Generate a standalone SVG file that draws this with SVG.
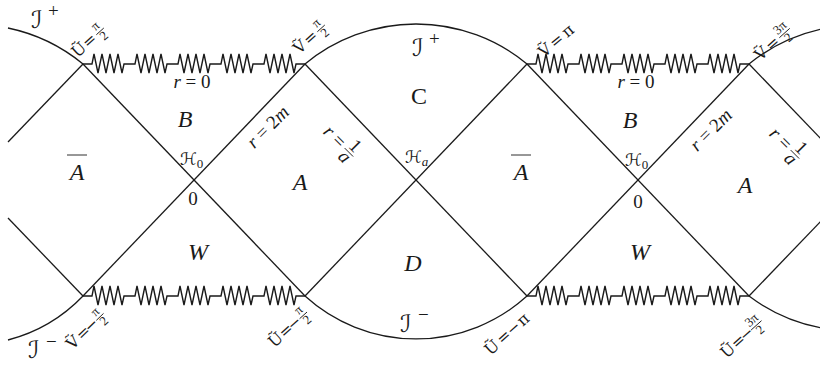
<svg xmlns="http://www.w3.org/2000/svg" xmlns:xlink="http://www.w3.org/1999/xlink" width="820" height="366" viewBox="0 0 820 366">
<style>
.ln{fill:none;stroke:#1a1a1a;stroke-width:1.3}
.sp{fill:none;stroke:#1a1a1a;stroke-width:1.4;stroke-linejoin:miter}
.big{font-family:"Liberation Serif",serif;font-style:italic;font-size:24px;fill:#1a1a1a}
.rom{font-family:"Liberation Serif",serif;font-size:24px;fill:#1a1a1a}
.md{font-family:"Liberation Serif",serif;font-style:italic;font-size:19px;fill:#1a1a1a}
.mdr{font-family:"Liberation Serif",serif;font-size:19px;fill:#1a1a1a}
.scr{font-family:"DejaVu Serif","DejaVu Sans",serif;font-size:17px;fill:#1a1a1a}
.si{font-family:"DejaVu Serif","DejaVu Sans",serif;font-size:24px;fill:#1a1a1a}
.sub{font-family:"Liberation Serif",serif;font-size:13px;fill:#1a1a1a}
.lab{font-family:"DejaVu Serif","Liberation Serif",serif;font-size:16px;fill:#1a1a1a}
.fr{font-family:"Liberation Serif",serif;font-size:13px;fill:#1a1a1a}
.frl{stroke:#1a1a1a;stroke-width:0.9}
</style>
<defs>
<path id="spring" d="M0,0 h9 l2,-10 l4,19 l4,-19 l4,19 l4,-19 l4,19 l4,-19 l4,19 l2,-9 h11 l2,-10 l4,19 l4,-19 l4,19 l4,-19 l4,19 l4,-19 l4,19 l2,-9 h11 l2,-10 l4,19 l4,-19 l4,19 l4,-19 l4,19 l4,-19 l4,19 l2,-9 h11 l2,-10 l4,19 l4,-19 l4,19 l4,-19 l4,19 l4,-19 l4,19 l2,-9 h11 l2,-10 l4,19 l4,-19 l4,19 l4,-19 l4,19 l4,-19 l4,19 l2,-9 h9"/>
</defs>
<g id="connectors">
<line class="ln" x1="8" y1="142" x2="83" y2="64"/>
<line class="ln" x1="8" y1="218" x2="83" y2="296"/>
<line class="ln" x1="83" y1="64" x2="305" y2="296"/>
<line class="ln" x1="83" y1="296" x2="305" y2="64"/>
<line class="ln" x1="305" y1="64" x2="527" y2="296"/>
<line class="ln" x1="305" y1="296" x2="527" y2="64"/>
<line class="ln" x1="527" y1="64" x2="749" y2="296"/>
<line class="ln" x1="527" y1="296" x2="749" y2="64"/>
<line class="ln" x1="749" y1="64" x2="822" y2="140"/>
<line class="ln" x1="749" y1="296" x2="822" y2="220"/>
<path class="ln" d="M8,28 A174,174 0 0 1 83,64"/>
<path class="ln" d="M305,64 A174,174 0 0 1 527,64"/>
<path class="ln" d="M749,64 A174,174 0 0 1 822,29"/>
<path class="ln" d="M8,340 A160,160 0 0 0 83,296"/>
<path class="ln" d="M305,296 A165,165 0 0 0 527,296"/>
<path class="ln" d="M749,296 A172,172 0 0 0 822,328"/>
<use xlink:href="#spring" class="sp" transform="translate(83,64)"/>
<use xlink:href="#spring" class="sp" transform="translate(527,64)"/>
<use xlink:href="#spring" class="sp" transform="translate(83,296)"/>
<use xlink:href="#spring" class="sp" transform="translate(527,296)"/>
</g>
<g id="scri-plus-left"><text class="si" x="31" y="28">ℐ</text><text class="mdr" x="48" y="17" font-size="15">+</text></g>
<g id="scri-plus-mid"><text class="si" x="412" y="56">ℐ</text><text class="mdr" x="429" y="45" font-size="15">+</text></g>
<g id="scri-minus-mid"><text class="si" x="400" y="332">ℐ</text><text class="mdr" x="418" y="321" font-size="15">−</text></g>
<g id="scri-minus-left"><text class="si" x="28" y="358">ℐ</text><text class="mdr" x="46" y="348" font-size="15">−</text></g>
<g id="region-C"><text class="rom" x="419" y="104" text-anchor="middle">C</text></g>
<g id="region-D"><text class="big" x="413" y="271" text-anchor="middle">D</text></g>
<g id="region-W-left"><text class="big" x="198" y="260" text-anchor="middle">W</text></g>
<g id="region-W-right"><text class="big" x="640" y="260" text-anchor="middle">W</text></g>
<g id="region-B-left"><text class="big" x="185" y="127" text-anchor="middle">B</text></g>
<g id="region-B-right"><text class="big" x="630" y="128" text-anchor="middle">B</text></g>
<g id="region-A-left"><text class="big" x="300" y="190" text-anchor="middle">A</text></g>
<g id="region-A-right"><text class="big" x="745" y="193" text-anchor="middle">A</text></g>
<g id="region-Abar-left"><text class="big" x="77" y="180" text-anchor="middle">A</text><line class="frl" x1="67" y1="155" x2="87" y2="155"/></g>
<g id="region-Abar-right"><text class="big" x="521" y="180" text-anchor="middle">A</text><line class="frl" x1="511" y1="155" x2="531" y2="155"/></g>
<g id="H0-left"><text class="scr" x="180" y="165">ℋ<tspan class="sub" dy="3">0</tspan></text></g>
<g id="H0-right"><text class="scr" x="625" y="166">ℋ<tspan class="sub" dy="3">0</tspan></text></g>
<g id="Ha"><text class="scr" x="405" y="163">ℋ<tspan class="sub" font-style="italic" dy="3">a</tspan></text></g>
<g id="zero-left"><text class="mdr" x="193" y="205" text-anchor="middle" font-size="16">0</text></g>
<g id="zero-right"><text class="mdr" x="638" y="208" text-anchor="middle" font-size="16">0</text></g>
<g id="r0-left"><text class="md" x="192" y="88" text-anchor="middle" font-size="20">r <tspan font-style="normal">= 0</tspan></text></g>
<g id="r0-right"><text class="md" x="636" y="88" text-anchor="middle" font-size="20">r <tspan font-style="normal">= 0</tspan></text></g>
<g id="r2m-left" transform="translate(268,127) rotate(-45)"><text class="md" x="0" y="6" text-anchor="middle">r <tspan font-style="normal">= 2</tspan>m</text></g>
<g id="r2m-right" transform="translate(711,130) rotate(-45)"><text class="md" x="0" y="6" text-anchor="middle">r <tspan font-style="normal">= 2</tspan>m</text></g>
<g id="r1a-mid" transform="translate(339,141) rotate(45)"><text class="md" x="-14" y="6" text-anchor="middle">r</text><text class="mdr" x="0" y="6" text-anchor="middle">=</text><text class="mdr" x="15" y="-2" text-anchor="middle" font-size="16">1</text><line class="frl" x1="9" y1="1" x2="21" y2="1"/><text class="md" x="15" y="13" text-anchor="middle" font-size="16">a</text></g>
<g id="r1a-right" transform="translate(785,143) rotate(45)"><text class="md" x="-14" y="6" text-anchor="middle">r</text><text class="mdr" x="0" y="6" text-anchor="middle">=</text><text class="mdr" x="15" y="-2" text-anchor="middle" font-size="16">1</text><line class="frl" x1="9" y1="1" x2="21" y2="1"/><text class="md" x="15" y="13" text-anchor="middle" font-size="16">a</text></g>
<g id="U-pi2" transform="translate(89,40) rotate(-42)"><text class="lab" x="-14" y="6" text-anchor="middle">Ũ</text><text class="lab" x="0" y="6" text-anchor="middle">=</text><text class="fr" x="14" y="-2" text-anchor="middle">π</text><line class="frl" x1="9" y1="1" x2="19" y2="1"/><text class="fr" x="14" y="11" text-anchor="middle">2</text></g>
<g id="V-pi2" transform="translate(310,37) rotate(-42)"><text class="lab" x="-14" y="6" text-anchor="middle">Ṽ</text><text class="lab" x="0" y="6" text-anchor="middle">=</text><text class="fr" x="14" y="-2" text-anchor="middle">π</text><line class="frl" x1="9" y1="1" x2="19" y2="1"/><text class="fr" x="14" y="11" text-anchor="middle">2</text></g>
<g id="V-pi" transform="translate(556,40) rotate(-40)"><text class="lab" x="-15" y="6" text-anchor="middle" font-size="18">Ṽ</text><text class="lab" x="0" y="6" text-anchor="middle" font-size="18">=</text><text class="lab" x="15" y="6" text-anchor="middle" font-size="18">π</text></g>
<g id="V-3pi2" transform="translate(772,43) rotate(-42)"><text class="lab" x="-15" y="6" text-anchor="middle">Ṽ</text><text class="lab" x="0" y="6" text-anchor="middle">=</text><text class="fr" x="16" y="-2" text-anchor="middle">3π</text><line class="frl" x1="9" y1="1" x2="23" y2="1"/><text class="fr" x="16" y="11" text-anchor="middle">2</text></g>
<g id="V-mpi2" transform="translate(87,328) rotate(-44)"><text class="lab" x="-20" y="6" text-anchor="middle">Ṽ</text><text class="lab" x="-6" y="6" text-anchor="middle">=</text><text class="lab" x="5" y="6" text-anchor="middle">−</text><text class="fr" x="17" y="-2" text-anchor="middle">π</text><line class="frl" x1="12" y1="1" x2="22" y2="1"/><text class="fr" x="17" y="11" text-anchor="middle">2</text></g>
<g id="U-mpi2" transform="translate(290,326) rotate(-42)"><text class="lab" x="-20" y="6" text-anchor="middle">Ũ</text><text class="lab" x="-6" y="6" text-anchor="middle">=</text><text class="lab" x="5" y="6" text-anchor="middle">−</text><text class="fr" x="17" y="-2" text-anchor="middle">π</text><line class="frl" x1="12" y1="1" x2="22" y2="1"/><text class="fr" x="17" y="11" text-anchor="middle">2</text></g>
<g id="U-mpi" transform="translate(507,333) rotate(-42)"><text class="lab" x="-21" y="6" text-anchor="middle" font-size="18">Ũ</text><text class="lab" x="-5" y="6" text-anchor="middle" font-size="18">=</text><text class="lab" x="8" y="6" text-anchor="middle" font-size="18">−</text><text class="lab" x="21" y="6" text-anchor="middle" font-size="18">π</text></g>
<g id="U-m3pi2" transform="translate(743,336) rotate(-42)"><text class="lab" x="-21" y="6" text-anchor="middle">Ũ</text><text class="lab" x="-7" y="6" text-anchor="middle">=</text><text class="lab" x="4" y="6" text-anchor="middle">−</text><text class="fr" x="17" y="-2" text-anchor="middle">3π</text><line class="frl" x1="10" y1="1" x2="24" y2="1"/><text class="fr" x="17" y="11" text-anchor="middle">2</text></g>
</svg>
